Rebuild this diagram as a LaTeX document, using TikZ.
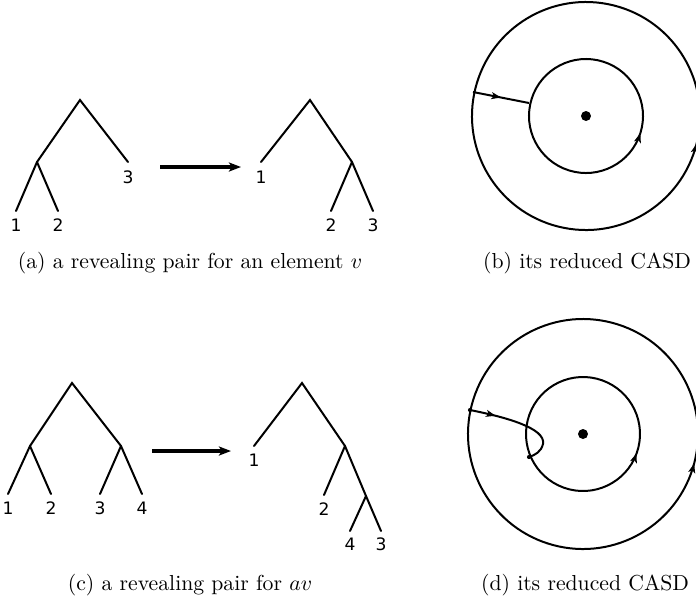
\documentclass[tikz,border=0pt]{standalone}
\usepackage{fontspec}
\newfontfamily\digitfont{DejaVu Sans}
\usetikzlibrary{arrows.meta,decorations.markings}
\tikzset{
  treeline/.style={line width=0.92pt, line cap=round},
  bigarrow/.style={line width=1.4pt, -{Stealth[length=5.6pt,width=4.2pt,inset=1.4pt]}},
  leaf/.style={font=\digitfont\fontsize{7.9}{9}\selectfont, inner sep=0pt},
  captext/.style={font=\fontsize{10}{12}\selectfont, inner sep=0pt, anchor=base},
  ring/.style={line width=0.92pt},
  blackdot/.style={circle, fill=black, inner sep=0pt, minimum size=#1},
  midtip/.style={decoration={markings, mark=at position #1 with {\arrow{Stealth[length=4.4pt,width=3.2pt,inset=1.1pt]}}}, postaction={decorate}},
}
\begin{document}
\begin{tikzpicture}[x=0.4608pt,y=-0.4608pt]
\useasboundingbox (0,0) rectangle (696,601);
% ---------- (a) left tree ----------
\coordinate (aR) at (80,100);
\coordinate (aL) at (37,162);
\coordinate (a3) at (128,162);
\coordinate (a1) at (16,211);
\coordinate (a2) at (58,211);
\draw[treeline] (a1) -- (aL) -- (aR) -- (a3);
\draw[treeline] (aL) -- (a2);
\node[leaf] (la1) at (16,225) {1};
\node[leaf] (la2) at (58,225) {2};
\node[leaf] (la3) at (128,177) {3};
% arrow
\coordinate (arA) at (160,167);
\coordinate (arB) at (241,167);
\draw[bigarrow] (arA) -- (arB);
% right tree
\coordinate (bR) at (310,100);
\coordinate (b1) at (261,162);
\coordinate (bN) at (352,162);
\coordinate (b2) at (331,211);
\coordinate (b3) at (373,211);
\draw[treeline] (b1) -- (bR) -- (bN) -- (b3);
\draw[treeline] (bN) -- (b2);
\node[leaf] (lb1) at (261,177) {1};
\node[leaf] (lb2) at (331,225) {2};
\node[leaf] (lb3) at (373,225) {3};
\node[captext] (capa) at (190,268) {(a) a revealing pair for an element $v$};
% ---------- (b) circles ----------
\coordinate (cB) at (586,116);
\draw[ring, midtip=0.5]
  (586,116) ++(194:114) arc[start angle=194, end angle=-166, radius=114];
\draw[ring, midtip=0.5]
  (586,116) ++(197.5:57) arc[start angle=197.5, end angle=-162.5, radius=57];
\node[blackdot=4.6pt] (cdotB) at (cB) {};
\coordinate (pB1) at (473,92);
\coordinate (pB2) at (529,103);
\draw[ring, midtip=0.5] (pB1) -- (pB2);
\node[captext] (capb) at (587,268) {(b) its reduced CASD};
% ---------- (c) left tree ----------
\coordinate (cR) at (72,383);
\coordinate (cL) at (30,446);
\coordinate (cM) at (121,446);
\coordinate (c1) at (8,494);
\coordinate (c2) at (51,494);
\coordinate (c3) at (100,494);
\coordinate (c4) at (142,494);
\draw[treeline] (c1) -- (cL) -- (cR) -- (cM) -- (c4);
\draw[treeline] (cL) -- (c2);
\draw[treeline] (cM) -- (c3);
\node[leaf] (lc1) at (8,508) {1};
\node[leaf] (lc2) at (51,508) {2};
\node[leaf] (lc3) at (100,508) {3};
\node[leaf] (lc4) at (142,508) {4};
% arrow
\coordinate (arC) at (152,451);
\coordinate (arD) at (231,451);
\draw[bigarrow] (arC) -- (arD);
% right tree
\coordinate (dR) at (302,383);
\coordinate (d1) at (254,446);
\coordinate (dN) at (345,446);
\coordinate (d2) at (324,495);
\coordinate (dM) at (366,496);
\coordinate (d4) at (350,531);
\coordinate (d3) at (381,531);
\draw[treeline] (d1) -- (dR) -- (dN) -- (dM) -- (d3);
\draw[treeline] (dN) -- (d2);
\draw[treeline] (dM) -- (d4);
\node[leaf] (ld1) at (254,460) {1};
\node[leaf] (ld2) at (324,509) {2};
\node[leaf] (ld4) at (350,544) {4};
\node[leaf] (ld3) at (381,544) {3};
\node[captext] (capc) at (190,590) {(c) a revealing pair for $av$};
% ---------- (d) circles ----------
\coordinate (cD) at (583,434);
\draw[ring, midtip=0.5]
  (583,434) ++(194.8:115) arc[start angle=194.8, end angle=-165.2, radius=115];
\draw[ring, midtip=0.5]
  (583,434) ++(199.7:57) arc[start angle=199.7, end angle=-160.3, radius=57];
\node[blackdot=4.6pt] (cdotD) at (cD) {};
\coordinate (pD1) at (470,410);
\coordinate (pD2) at (529,457);
\draw[ring, midtip=0.25]
  (pD1) .. controls (505,417) and (546,428) .. (543,444) .. controls (541,452) and (535,455) .. (pD2);
\node[blackdot=1.9pt] (eD1) at (pD1) {};
\node[blackdot=1.9pt] (eD2) at (pD2) {};
\node[captext] (capd) at (585,590) {(d) its reduced CASD};
\end{tikzpicture}
\end{document}
